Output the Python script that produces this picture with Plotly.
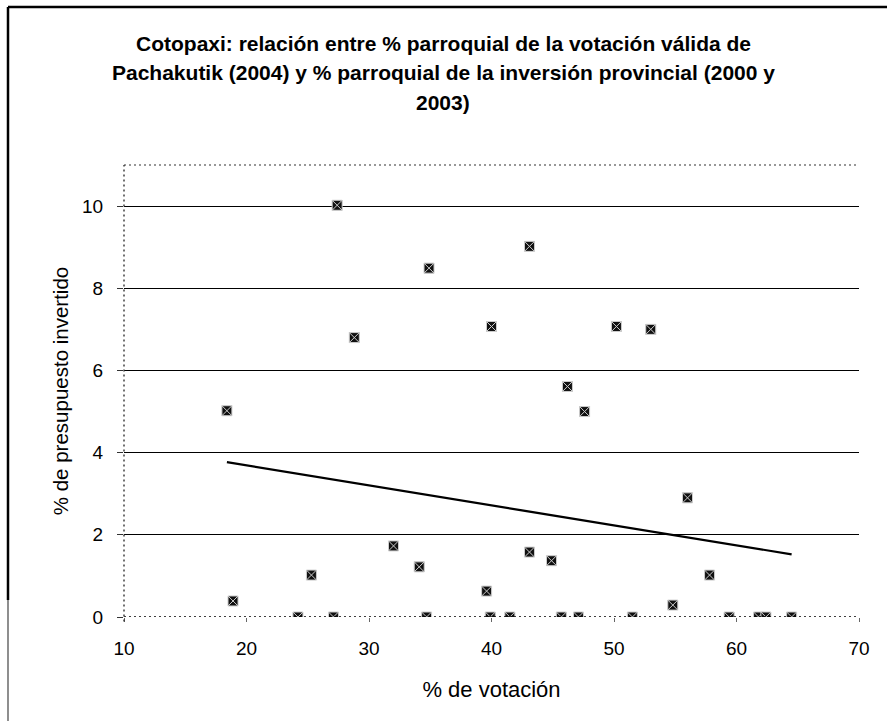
import numpy as np
import plotly.graph_objects as go

# --- data ---
votacion = [18.4, 18.9, 24.2, 25.3, 27.1, 27.4, 28.8, 32.0, 34.1, 34.7, 34.9,
            39.6, 39.9, 40.0, 41.5, 43.1, 43.1, 44.9, 45.7, 46.2, 47.1, 47.6,
            50.2, 51.5, 53.0, 54.8, 56.0, 57.8, 59.4, 61.8, 62.4, 64.5]
presupuesto = [5.02, 0.39, 0.0, 1.02, 0.0, 10.02, 6.80, 1.73, 1.22, 0.0, 8.49,
               0.63, 0.0, 7.07, 0.0, 9.02, 1.58, 1.37, 0.0, 5.61, 0.0, 5.00,
               7.07, 0.0, 7.00, 0.29, 2.90, 1.02, 0.0, 0.0, 0.0, 0.0]
x_ticks = [10, 20, 30, 40, 50, 60, 70]
y_ticks = [0, 2, 4, 6, 8, 10]

title_lines = ["Cotopaxi: relación entre % parroquial de la votación válida de",
               "Pachakutik (2004) y % parroquial de la inversión provincial (2000 y",
               "2003)"]

# linear trend (least squares), drawn over the data range
slope, intercept = np.polyfit(votacion, presupuesto, 1)
tx = [min(votacion), max(votacion)]
ty = [slope * v + intercept for v in tx]

W, H = 887, 721
ML, MR, MT, MB = 124, 28, 165, 104
FONT = "Liberation Sans, Arial, sans-serif"

def px_x(p):
    return (p - ML) / (W - ML - MR)

def px_y(p):
    return 1 - (p - MT) / (H - MT - MB)

fig = go.Figure()
fig.add_trace(go.Scatter(x=tx, y=ty, mode="lines",
                         line=dict(color="black", width=2.2),
                         showlegend=False, hoverinfo="skip"))
fig.add_trace(go.Scatter(x=votacion, y=presupuesto, mode="markers",
                         marker=dict(symbol="square-x", size=10, color="#111111",
                                     line=dict(color="#cccccc", width=1)),
                         showlegend=False))

shapes = [
    dict(type="line", xref="paper", yref="y", x0=0, x1=1, y0=0, y1=0,
         line=dict(color="black", width=1.6, dash="2px,3px"), layer="above"),
    dict(type="line", xref="paper", yref="paper", x0=0, x1=1, y0=1, y1=1,
         line=dict(color="#333", width=1.2, dash="2px,3px"), layer="above"),
    dict(type="line", xref="paper", yref="paper", x0=0, x1=0, y0=-0.01, y1=1,
         line=dict(color="#333", width=1.4, dash="2px,3px"), layer="above"),
    dict(type="line", xref="paper", yref="paper", x0=px_x(8), x1=px_x(8),
         y0=px_y(7), y1=px_y(600), line=dict(color="black", width=2.5)),
    dict(type="line", xref="paper", yref="paper", x0=px_x(8), x1=px_x(8),
         y0=px_y(600), y1=px_y(721), line=dict(color="#444", width=1.2)),
    dict(type="line", xref="paper", yref="paper", x0=px_x(8), x1=px_x(887),
         y0=px_y(7), y1=px_y(7), line=dict(color="black", width=2.5)),
]

annotations = []
for i, t in enumerate(title_lines):
    annotations.append(dict(text="<b>%s</b>" % t, x=px_x(443), y=px_y(44 + 29 * i),
                            xref="paper", yref="paper", showarrow=False,
                            xanchor="center", yanchor="middle",
                            font=dict(family=FONT, size=21, color="black")))

fig.update_layout(
    width=W, height=H,
    margin=dict(l=ML, r=MR, t=MT, b=MB),
    paper_bgcolor="white", plot_bgcolor="white",
    font=dict(family=FONT, color="black"),
    shapes=shapes, annotations=annotations,
    xaxis=dict(range=[10, 70], tickvals=x_ticks, showgrid=False, zeroline=False,
               showline=False, ticks="outside", ticklen=4, tickcolor="#666",
               ticklabelstandoff=10,
               tickfont=dict(size=19), title=dict(text="% de votación",
               font=dict(size=22), standoff=23)),
    yaxis=dict(range=[0, 11], tickvals=y_ticks, showgrid=True, gridcolor="black",
               gridwidth=1, zeroline=False,
               showline=False, ticks="outside", ticklen=6, tickcolor="#333",
               ticklabelstandoff=10,
               tickfont=dict(size=19), title=dict(text="% de presupuesto invertido",
               font=dict(size=20.5), standoff=7)),
)

fig.write_html("out.html", config={"displayModeBar": False},
               post_script="document.body.style.margin='0';")
